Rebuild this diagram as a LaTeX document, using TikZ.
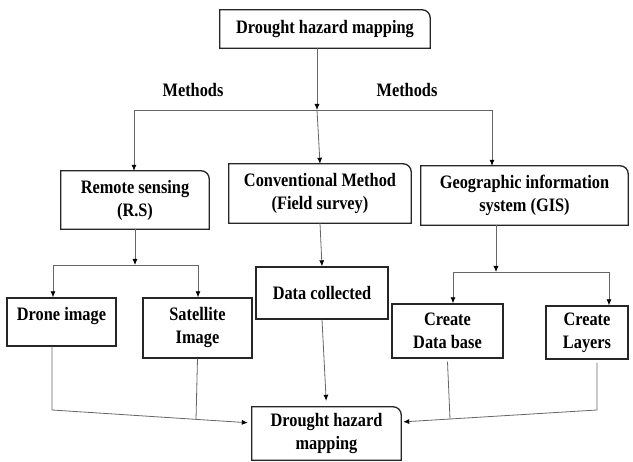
\documentclass[tikz,border=0pt]{standalone}
\usepackage{fontspec}
\setmainfont{Liberation Serif}[FakeStretch=0.86]
\usetikzlibrary{arrows.meta}
\newcommand{\rtframe}[1]{\draw[frame] (#1.south west) -- (#1.north west) -- ([xshift=-8pt]#1.north east) arc[start angle=90,end angle=0,radius=8pt] -- (#1.south east) -- cycle;}
\begin{document}
\begin{tikzpicture}[x=1pt,y=-1pt,
  lbl/.style={font=\bfseries\fontsize{19}{23}\selectfont, align=center, inner sep=0pt},
  sq/.style={lbl, draw=black!85, line width=1.3pt},
  frame/.style={draw=black!85, line width=1.3pt},
  con/.style={draw=black!60, line width=0.8pt},
  arr/.style={con, -{Latex[length=6pt,width=5pt,color=black]}}]
\useasboundingbox (0,0) rectangle (633,462);
% boxes
\node[lbl, minimum width=210pt, minimum height=38pt] (top) at (325,29) {Drought hazard mapping};
\rtframe{top}
\node[lbl, minimum width=148pt, minimum height=58pt] (rs) at (135,200) {Remote sensing\\(R.S)};
\rtframe{rs}
\node[lbl, minimum width=182pt, minimum height=59pt] (conv) at (320,193.5) {Conventional Method\\(Field survey)};
\rtframe{conv}
\node[lbl, minimum width=207pt, minimum height=59pt] (gis) at (524.5,195.5) {Geographic information\\system (GIS)};
\rtframe{gis}
\node[sq, minimum width=109pt, minimum height=48pt, text depth=17pt] (drone) at (61.5,322) {Drone image};
\node[sq, minimum width=109pt, minimum height=60pt] (sat) at (197.5,328) {Satellite\\Image};
\node[sq, minimum width=132pt, minimum height=52pt] (data) at (322,293) {Data collected};
\node[sq, minimum width=111pt, minimum height=54pt] (db) at (447.5,331) {Create\\Data base};
\node[sq, minimum width=82pt, minimum height=53pt] (lay) at (587,332.5) {Create\\Layers};
\node[lbl, minimum width=149pt, minimum height=53pt] (bot) at (326.5,433.5) {Drought hazard\\mapping};
\rtframe{bot}
% labels
\node[lbl] (m1) at (193,90) {Methods};
\node[lbl] (m2) at (407,90) {Methods};
% coordinates
\coordinate (h0) at (317,110);
\coordinate (hl) at (134,110);
\coordinate (hr) at (492,110);
\coordinate (rsm) at (135,265);
\coordinate (rsl) at (53,265);
\coordinate (rsr) at (198,265);
\coordinate (gm) at (496,272);
\coordinate (gl) at (453,272);
\coordinate (gr) at (609,272);
\coordinate (dl) at (52,410);
\coordinate (sj) at (196,419.6);
\coordinate (lr) at (597,410);
\coordinate (dj) at (450,419);
% connectors
\draw[con] (hl) -- (hr);
\draw[arr] (top.south -| h0) -- (h0);
\draw[arr] (h0) -- (conv.north);
\draw[arr] (hl) -- (rs.north -| hl);
\draw[arr] (hr) -- (gis.north -| hr);
\draw[arr] (rs.south) -- (rsm);
\draw[con] (rsl) -- (rsr);
\draw[arr] (rsl) -- (drone.north -| rsl);
\draw[arr] (rsr) -- (sat.north -| rsr);
\draw[arr] (conv.south) -- (data.north);
\draw[arr] (gis.south -| gm) -- (gm);
\draw[con] (gl) -- (gr);
\draw[arr] (gl) -- (db.north -| gl);
\draw[arr] (gr) -- (lay.north -| gr);
\draw[arr, shorten >=6pt] (data.south) -- (bot.north);
\draw[arr, shorten >=4pt] (drone.south -| dl) -- (dl) -- ([yshift=10.5pt]bot.west);
\draw[con] (sat.south) -- (sj);
\draw[arr, shorten >=2pt] ([yshift=-3pt]lay.south -| lr) -- (lr) -- ([yshift=11.5pt]bot.east);
\draw[con] ([yshift=-3pt]db.south) -- (dj);
\end{tikzpicture}
\end{document}
